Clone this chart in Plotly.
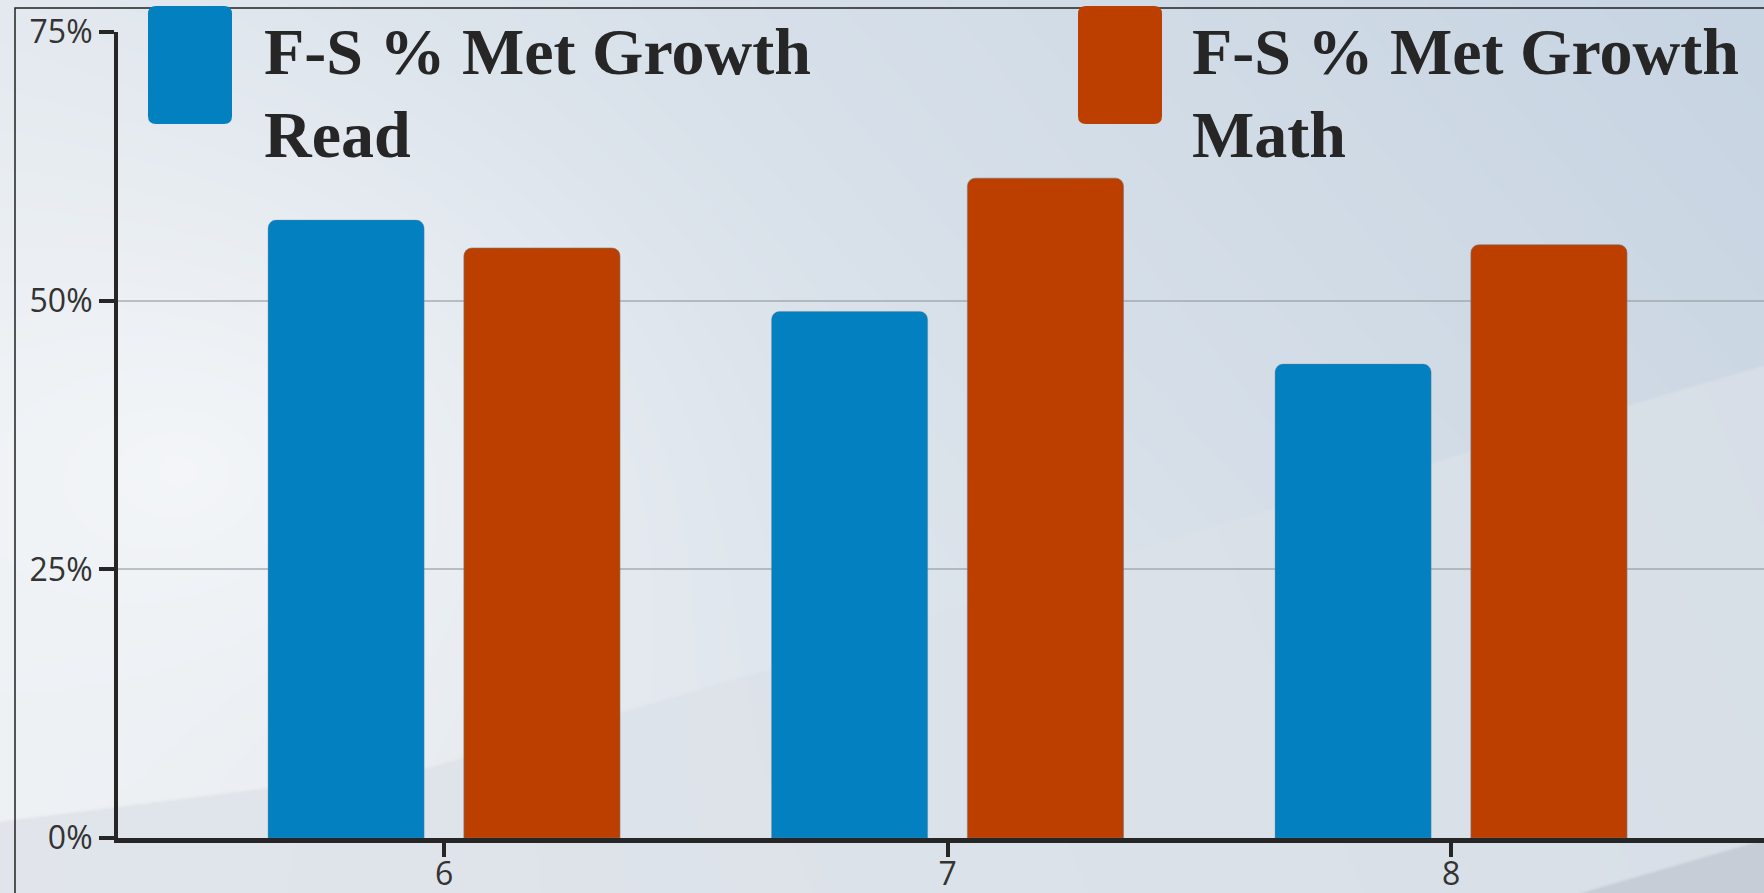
import base64
import struct
import zlib

import numpy as np
import plotly.graph_objects as go

# ---------------- data ----------------
grades = [6, 7, 8]
grade_labels = ["6", "7", "8"]
series_names = ["F-S % Met Growth Read", "F-S % Met Growth Math"]
read_pct = [57.5, 49.0, 44.1]
math_pct = [54.9, 61.4, 55.2]
y_ticks = [0, 25, 50, 75]
y_tick_labels = ["0%", "25%", "50%", "75%"]
colors = ["#0380bf", "#bc3f00"]

W, H = 1764, 893


# ---------------- background image (decoration) ----------------
def make_png(arr):
    h, w, _ = arr.shape
    raw = b"".join(b"\x00" + arr[r].tobytes() for r in range(h))

    def chunk(t, d):
        return struct.pack(">I", len(d)) + t + d + struct.pack(">I", zlib.crc32(t + d) & 0xFFFFFFFF)

    return (b"\x89PNG\r\n\x1a\n" + chunk(b"IHDR", struct.pack(">IIBBBBB", w, h, 8, 2, 0, 0, 0))
            + chunk(b"IDAT", zlib.compress(raw, 9)) + chunk(b"IEND", b""))


def hexrgb(h):
    h = h.lstrip("#")
    return np.array([int(h[i:i + 2], 16) for i in (0, 2, 4)], dtype=float)


s = 2
w2, h2 = W // s, H // s + 1
X, Y = np.meshgrid(np.arange(w2) * s, np.arange(h2) * s)
u = X / W
v = Y / H
TL, TR, BL, BR = hexrgb("#e3e9ef"), hexrgb("#c7d4e2"), hexrgb("#eef1f4"), hexrgb("#d4dde7")
img = ((1 - u)[..., None] * (1 - v)[..., None] * TL + u[..., None] * (1 - v)[..., None] * TR
       + (1 - u)[..., None] * v[..., None] * BL + u[..., None] * v[..., None] * BR)
# bright spot on the left
d = np.sqrt(((X - 180) / 700.0) ** 2 + ((Y - 470) / 520.0) ** 2)
wt = np.clip(1 - d, 0, 1) ** 1.5 * 0.85
img = img * (1 - wt[..., None]) + hexrgb("#f6f8fa") * wt[..., None]
# lower grey band
bx = [0, 425, 772, 1150, 1764]
by = [820, 767, 667, 543, 363]
yb = np.interp(X, bx, by)
m = np.clip((Y - yb) / 3.0, 0, 1)
band = (1 - u)[..., None] * hexrgb("#dfe4ea") + u[..., None] * hexrgb("#d9e0e8")
img = img * (1 - m[..., None] * 0.85) + band * (m[..., None] * 0.85)
# bottom-right darker triangle
yt = np.interp(X, [1575, 1764], [893, 838])
m2 = np.clip((Y - yt) / 3.0, 0, 1) * (X > 1560)
img = img * (1 - m2[..., None]) + hexrgb("#c6cdd6") * m2[..., None]
img = np.clip(img, 0, 255).astype(np.uint8)
bg_uri = "data:image/png;base64," + base64.b64encode(make_png(img)).decode()


# ---------------- helpers for legend swatches ----------------
def rrect_path(x0, y0, x1, y1, r):
    """Rounded rectangle given in pixel coords -> path in paper coords."""
    def P(x, y):
        return f"{x / W:.5f},{1 - y / H:.5f}"
    return (f"M {P(x0 + r, y0)} L {P(x1 - r, y0)} Q {P(x1, y0)} {P(x1, y0 + r)} "
            f"L {P(x1, y1 - r)} Q {P(x1, y1)} {P(x1 - r, y1)} L {P(x0 + r, y1)} "
            f"Q {P(x0, y1)} {P(x0, y1 - r)} L {P(x0, y0 + r)} Q {P(x0, y0)} {P(x0 + r, y0)} Z")


fig = go.Figure()
fig.add_trace(go.Bar(x=grades, y=read_pct, name=series_names[0],
                     marker=dict(color=colors[0], cornerradius=8,
                                 line=dict(width=1, color="rgba(120,130,140,0.35)"))))
fig.add_trace(go.Bar(x=grades, y=math_pct, name=series_names[1],
                     marker=dict(color=colors[1], cornerradius=8,
                                 line=dict(width=1, color="rgba(120,120,120,0.6)"))))

shapes = [
    dict(type="rect", xref="paper", yref="paper", x0=15 / W, x1=1.0 + 20 / W, y0=-20 / H, y1=1 - 8 / H,
         line=dict(color="#222222", width=1.5), fillcolor="rgba(0,0,0,0)", layer="below"),
]
annotations = []
legend_pos = [(148, 262), (1078, 1190)]
for (sx, tx), name, col in zip(legend_pos, series_names, colors):
    shapes.append(dict(type="path", xref="paper", yref="paper",
                       path=rrect_path(sx, 6, sx + 84, 124, 8),
                       fillcolor=col, line=dict(width=0), layer="above"))
    first, second = name.rsplit(" ", 1)
    for txt, ymid in ((first, 52), (second, 134)):
        annotations.append(dict(text=txt, xref="paper", yref="paper", x=tx / W, y=1 - ymid / H,
                                xanchor="left", yanchor="middle", showarrow=False,
                                font=dict(family="Liberation Serif", size=66, color="#262626",
                                          weight="bold")))

fig.update_layout(
    width=W, height=H,
    margin=dict(l=0, r=0, t=0, b=0, pad=0, autoexpand=False),
    paper_bgcolor="#e6ebf0",
    plot_bgcolor="rgba(0,0,0,0)",
    barmode="group", bargap=0.222, bargroupgap=0.203,
    showlegend=False,
    images=[dict(source=bg_uri, xref="paper", yref="paper", x=0, y=1, sizex=1, sizey=1,
                 xanchor="left", yanchor="top", sizing="stretch", layer="below")],
    shapes=shapes,
    annotations=annotations,
    xaxis=dict(domain=[118 / W, 1], range=[5.3525, 8.6216], tickvals=grades, ticktext=grade_labels,
               automargin=False, ticklabelstandoff=-10,
               ticks="outside", ticklen=14, tickwidth=4, tickcolor="#262626",
               showline=True, linewidth=5, linecolor="#262626", showgrid=False, zeroline=False,
               tickfont=dict(family="Open Sans", size=32, color="#333333")),
    yaxis=dict(domain=[55 / H, 861 / H], range=[0, 75], tickvals=y_ticks, ticktext=y_tick_labels,
               automargin=False,
               ticks="outside", ticklen=15, tickwidth=4, tickcolor="#262626",
               showline=True, linewidth=4, linecolor="#262626",
               showgrid=True, gridcolor="rgba(150,156,162,0.6)", gridwidth=2, zeroline=False,
               tickfont=dict(family="Open Sans", size=32, color="#333333")),
)

fig.write_html(
    "out.html",
    config={"displayModeBar": False},
    post_script="document.body.style.margin='0';document.body.style.overflow='hidden';",
)
